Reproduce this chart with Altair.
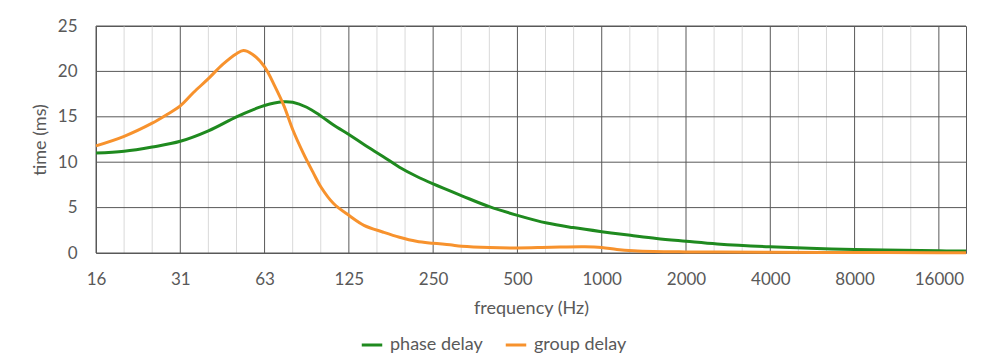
import altair as alt
import pandas as pd

# ---- data ----
phase_freq = [15.625, 19.69, 24.8, 31.25, 39.37, 49.61, 57.6, 62.5, 72.4, 78.75, 88.4,
              99.21, 110.2, 125, 141.5, 166, 189.5, 217.8, 250, 316.5, 397, 500, 637,
              790, 1000, 1266, 1569, 2000, 2585, 4000, 8000, 16000, 20000]
phase_ms = [11.0, 11.2, 11.67, 12.3, 13.45, 15.0, 15.85, 16.25, 16.65, 16.6, 16.05,
            15.1, 14.1, 13.05, 11.95, 10.6, 9.45, 8.45, 7.6, 6.3, 5.1, 4.15, 3.3,
            2.8, 2.35, 1.95, 1.6, 1.3, 1.0, 0.68, 0.38, 0.24, 0.21]

group_freq = [15.625, 19.69, 24.8, 28.0, 31.25, 34.9, 39.37, 44.4, 49.61, 52.5, 56.5,
              62.5, 67.9, 73.3, 78.75, 85.9, 93.4, 99.21, 110.2, 125, 141.5, 166,
              189.5, 217.8, 250, 287, 316.5, 397, 500, 660, 870, 1000, 1133, 1300,
              1530, 2000, 2640, 4000, 8000, 16000, 20000]
group_ms = [11.8, 12.85, 14.3, 15.25, 16.2, 17.7, 19.2, 20.8, 21.95, 22.3, 21.9,
            20.5, 18.4, 16.2, 13.6, 11.0, 8.8, 7.3, 5.45, 4.15, 3.05, 2.29,
            1.73, 1.29, 1.07, 0.9, 0.75, 0.6, 0.55, 0.63, 0.68, 0.6, 0.38, 0.24,
            0.16, 0.12, 0.1, 0.07, 0.05, 0.04, 0.03]

series_names = ["phase delay", "group delay"]
series_colors = ["#1f8a1f", "#f7922d"]

major_freq = [15.625, 31.25, 62.5, 125, 250, 500, 1000, 2000, 4000, 8000, 16000]
tick_labels = ["16", "31", "63", "125", "250", "500", "1000", "2000", "4000", "8000", "16000"]
minor_freq = [19.69, 24.80, 39.37, 49.61, 78.75, 99.21, 157.49, 198.43, 314.98, 396.85,
              629.96, 793.70, 1259.92, 1587.40, 2519.84, 3174.80, 5039.68, 6349.60,
              10079.37, 12699.21]
y_ticks = [0, 5, 10, 15, 20, 25]

FONT = "Lato"
FS = 17
FT = 18
TXT = "#595959"
GRID = "#595959"

df = pd.concat([
    pd.DataFrame({"freq": phase_freq, "ms": phase_ms, "series": series_names[0]}),
    pd.DataFrame({"freq": group_freq, "ms": group_ms, "series": series_names[1]}),
])

xscale = alt.Scale(type="log", base=2, domain=[15.625, 20000], nice=False, zero=False)
yscale = alt.Scale(domain=[0, 25], nice=False)

# label expression built from the tick lists
label_expr = "''"
for v, lab in reversed(list(zip(major_freq, tick_labels))):
    label_expr = f"abs(datum.value - {v}) < 0.01 * {v} ? '{lab}' : ({label_expr})"

minor = alt.Chart(pd.DataFrame({"f": minor_freq})).mark_rule(
    color="#d9d9d9", strokeWidth=1
).encode(x=alt.X("f:Q", scale=xscale, axis=None))

major_x = alt.Chart(pd.DataFrame({"f": major_freq})).mark_rule(
    color=GRID, strokeWidth=1
).encode(x=alt.X("f:Q", scale=xscale, axis=None))

major_y = alt.Chart(pd.DataFrame({"t": y_ticks})).mark_rule(
    color=GRID, strokeWidth=1
).encode(y=alt.Y("t:Q", scale=yscale, axis=None))

lines = alt.Chart(df).mark_line(strokeWidth=3, interpolate="catmull-rom").encode(
    x=alt.X("freq:Q", scale=xscale, title="frequency (Hz)",
            axis=alt.Axis(orient="bottom", values=major_freq, labelExpr=label_expr,
                          grid=False, ticks=False, tickSize=0, domain=False,
                          labelPadding=18, labelFontSize=FS, labelColor=TXT,
                          labelFont=FONT, titleFont=FONT, titleFontSize=FT,
                          titleColor=TXT, titleFontWeight="normal", titlePadding=12,
                          labelOverlap=False, labelFlush=False)),
    y=alt.Y("ms:Q", scale=yscale, title="time (ms)",
            axis=alt.Axis(orient="left", values=y_ticks, grid=False, ticks=False,
                          tickSize=0, domain=False, labelPadding=19, labelFontSize=FS,
                          labelColor=TXT, labelFont=FONT, titleFont=FONT,
                          titleFontSize=FT, titleColor=TXT, titleFontWeight="normal",
                          titlePadding=8)),
    color=alt.Color("series:N",
                    scale=alt.Scale(domain=series_names, range=series_colors),
                    sort=series_names,
                    legend=alt.Legend(title=None, orient="none", legendX=264,
                                      legendY=307, direction="horizontal",
                                      symbolType="stroke", symbolSize=420,
                                      symbolStrokeWidth=3, labelFontSize=FT,
                                      labelFont=FONT, labelColor=TXT,
                                      labelOffset=6, columnPadding=16)),
)

chart = alt.layer(minor, major_x, major_y, lines).resolve_axis(
    x="independent", y="independent"
).properties(
    width=870, height=227,
    autosize="none",
    padding={"left": 88, "top": 18, "right": 20, "bottom": 110},
).configure_view(stroke=GRID, strokeWidth=1)

chart.save("out.html", embed_options={"renderer": "svg", "actions": False})
